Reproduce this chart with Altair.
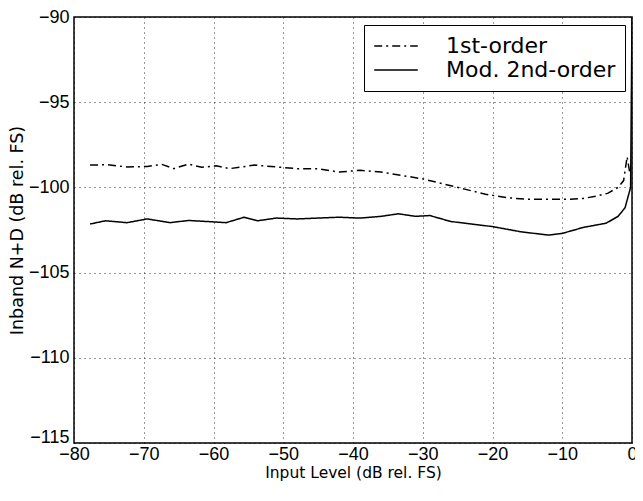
import altair as alt
import pandas as pd

first_x = [-77.7, -75.2, -72.4, -69.5, -67.4, -65.7, -63.6, -61.7, -59.6, -57.7, -54.1, -51, -48, -45, -42,
           -39, -36, -33, -30, -27, -24, -21, -18, -15, -12, -9, -7, -5, -3.5, -2, -1.2, -0.7, -0.3]
first_y = [-98.69, -98.67, -98.8, -98.77, -98.65, -98.9, -98.63, -98.82, -98.73, -98.9, -98.69, -98.8, -98.9,
           -98.9, -99.1, -99.0, -99.1, -99.3, -99.5, -99.8, -100.1, -100.4, -100.6, -100.7, -100.7, -100.7,
           -100.65, -100.5, -100.35, -100.0, -99.6, -98.2, -99.2]

second_x = [-77.7, -75.5, -72.4, -69.5, -66.2, -63.6, -61, -58.2, -55.6, -53.7, -51, -48, -45, -42, -39, -36,
            -33.5, -31, -29, -26, -23, -20, -16, -12, -10, -7, -3.7, -2, -1, -0.2, 0]
second_y = [-102.15, -101.96, -102.07, -101.85, -102.07, -101.94, -102.0, -102.07, -101.75, -101.96, -101.8,
            -101.85, -101.8, -101.75, -101.8, -101.7, -101.55, -101.7, -101.65, -102.0, -102.15, -102.3, -102.6,
            -102.8, -102.7, -102.35, -102.1, -101.7, -101.2, -100.0, -90]

series_names = ["1st-order", "Mod. 2nd-order"]
x_ticks = [-80, -70, -60, -50, -40, -30, -20, -10, 0]
y_ticks = [-115, -110, -105, -100, -95, -90]

rows = []
for i, (x, y) in enumerate(zip(first_x, first_y)):
    rows.append({"x": x, "y": y, "series": series_names[0], "order": i})
for i, (x, y) in enumerate(zip(second_x, second_y)):
    rows.append({"x": x, "y": y, "series": series_names[1], "order": i})
df = pd.DataFrame(rows)

FONT = "Liberation Sans"
WIDE = "DejaVu Sans"

chart = alt.Chart(df).mark_line(color="black", strokeWidth=1.5, clip=True).encode(
    x=alt.X("x:Q", scale=alt.Scale(domain=[-80, 0], nice=False),
            axis=alt.Axis(values=x_ticks, title="Input Level (dB rel. FS)", ticks=False, domain=False,
                          labelPadding=2, titlePadding=2, labelFlush=False,
                          titleFont=WIDE, titleFontSize=15.5)),
    y=alt.Y("y:Q", scale=alt.Scale(domain=[-115, -90], nice=False),
            axis=alt.Axis(values=y_ticks, title="Inband N+D (dB rel. FS)", ticks=False, domain=False,
                          labelPadding=5, titlePadding=2, titleFont=WIDE, titleFontSize=17.5,
                          labelOffset={"condition": {"test": "datum.value == -115", "value": -6},
                                       "value": 0})),
    strokeDash=alt.StrokeDash("series:N",
                              scale=alt.Scale(domain=series_names, range=[[8, 4, 2, 4], [1, 0]]),
                              legend=alt.Legend(title=None, orient="none", legendX=290, legendY=8,
                                                strokeColor="black", fillColor="white", padding=9,
                                                symbolType="stroke", symbolSize=1900, symbolStrokeWidth=1.5,
                                                symbolStrokeColor="black", labelFontSize=22, labelFont=WIDE,
                                                labelColor="black", labelOffset=27, rowPadding=0,
                                                labelLimit=400, clipHeight=24, symbolOffset=0)),
    order="order:Q",
).properties(
    width=558, height=426, background="white",
    autosize=alt.AutoSizeParams(type="none"),
    padding={"left": 66, "top": 9, "right": 3, "bottom": 38},
).configure_view(
    stroke="black", strokeWidth=1.5,
).configure_axis(
    grid=True, gridColor="black", gridDash=[1, 4], gridOpacity=0.8, gridWidth=1,
    labelFont=FONT, labelFontSize=18, labelColor="black",
    titleFontWeight="normal", titleColor="black",
)

chart.save("out.html", embed_options={"renderer": "svg", "actions": False})
